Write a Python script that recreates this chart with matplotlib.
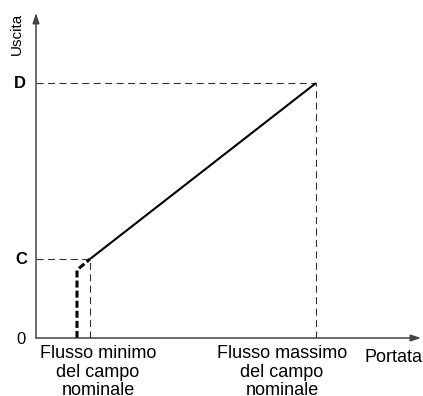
import matplotlib
matplotlib.use("Agg")
import matplotlib.pyplot as plt

plt.rcParams['font.family'] = ['Liberation Sans', 'DejaVu Sans']

# portata (asse x) e uscita (asse y), unita' arbitrarie
flow_cut = 41
flow_min = 54
flow_max = 280
out_cut = 68
out_C = 79
out_D = 255

x_labels = ['Flusso minimo\ndel campo\nnominale', 'Flusso massimo\ndel campo\nnominale']
label_shift = [8, -34]

fig = plt.figure(figsize=(4.23, 3.96), dpi=100)
ax = fig.add_axes([36 / 423, 58 / 396, 387 / 423, 338 / 396])
ax.set_xlim(0, 387)
ax.set_ylim(0, 338)
ax.axis('off')

# assi con freccia
arrow = dict(arrowstyle='-|>,head_length=0.6,head_width=0.2', color='#444444', lw=1.1,
             shrinkA=0, shrinkB=0)
ax.annotate('', xy=(385, 0), xytext=(0, 0), arrowprops=arrow, annotation_clip=False)
ax.annotate('', xy=(0, 325), xytext=(0, 0), arrowprops=arrow, annotation_clip=False)

thin = dict(color='#333333', lw=0.8, dashes=(6.3, 4))
ax.plot([0, flow_min], [out_C, out_C], **thin)
ax.plot([flow_min, flow_min], [0, out_C], **thin)
ax.plot([0, flow_max], [out_D, out_D], **thin)
ax.plot([flow_max, flow_max], [0, out_D], **thin)

# linea di uscita
ax.plot([flow_min, flow_max], [out_C, out_D], color='black', lw=1.5, solid_capstyle='butt')
ax.plot([flow_cut, flow_cut, flow_min], [0, out_cut, out_C], color='black', lw=2.2,
        dashes=(2.3, 1.0))

ax.text(-16, out_D, 'D', ha='center', va='center', fontsize=12, fontweight='bold')
ax.text(-15, out_C, 'C', ha='center', va='center', fontsize=12, fontweight='bold')
ax.text(-15, -1, '0', ha='center', va='center', fontsize=12)
ax.text(-19, 325, 'Uscita', rotation=90, ha='center', va='top', fontsize=11)
ax.text(386, -19, 'Portata', ha='right', va='center', fontsize=13)

for xv, dx, lab in zip([flow_min, flow_max], label_shift, x_labels):
    ax.text(xv + dx, -7, lab, ha='center', va='top', fontsize=13, linespacing=1.12)

fig.savefig('out.png', dpi=100)
